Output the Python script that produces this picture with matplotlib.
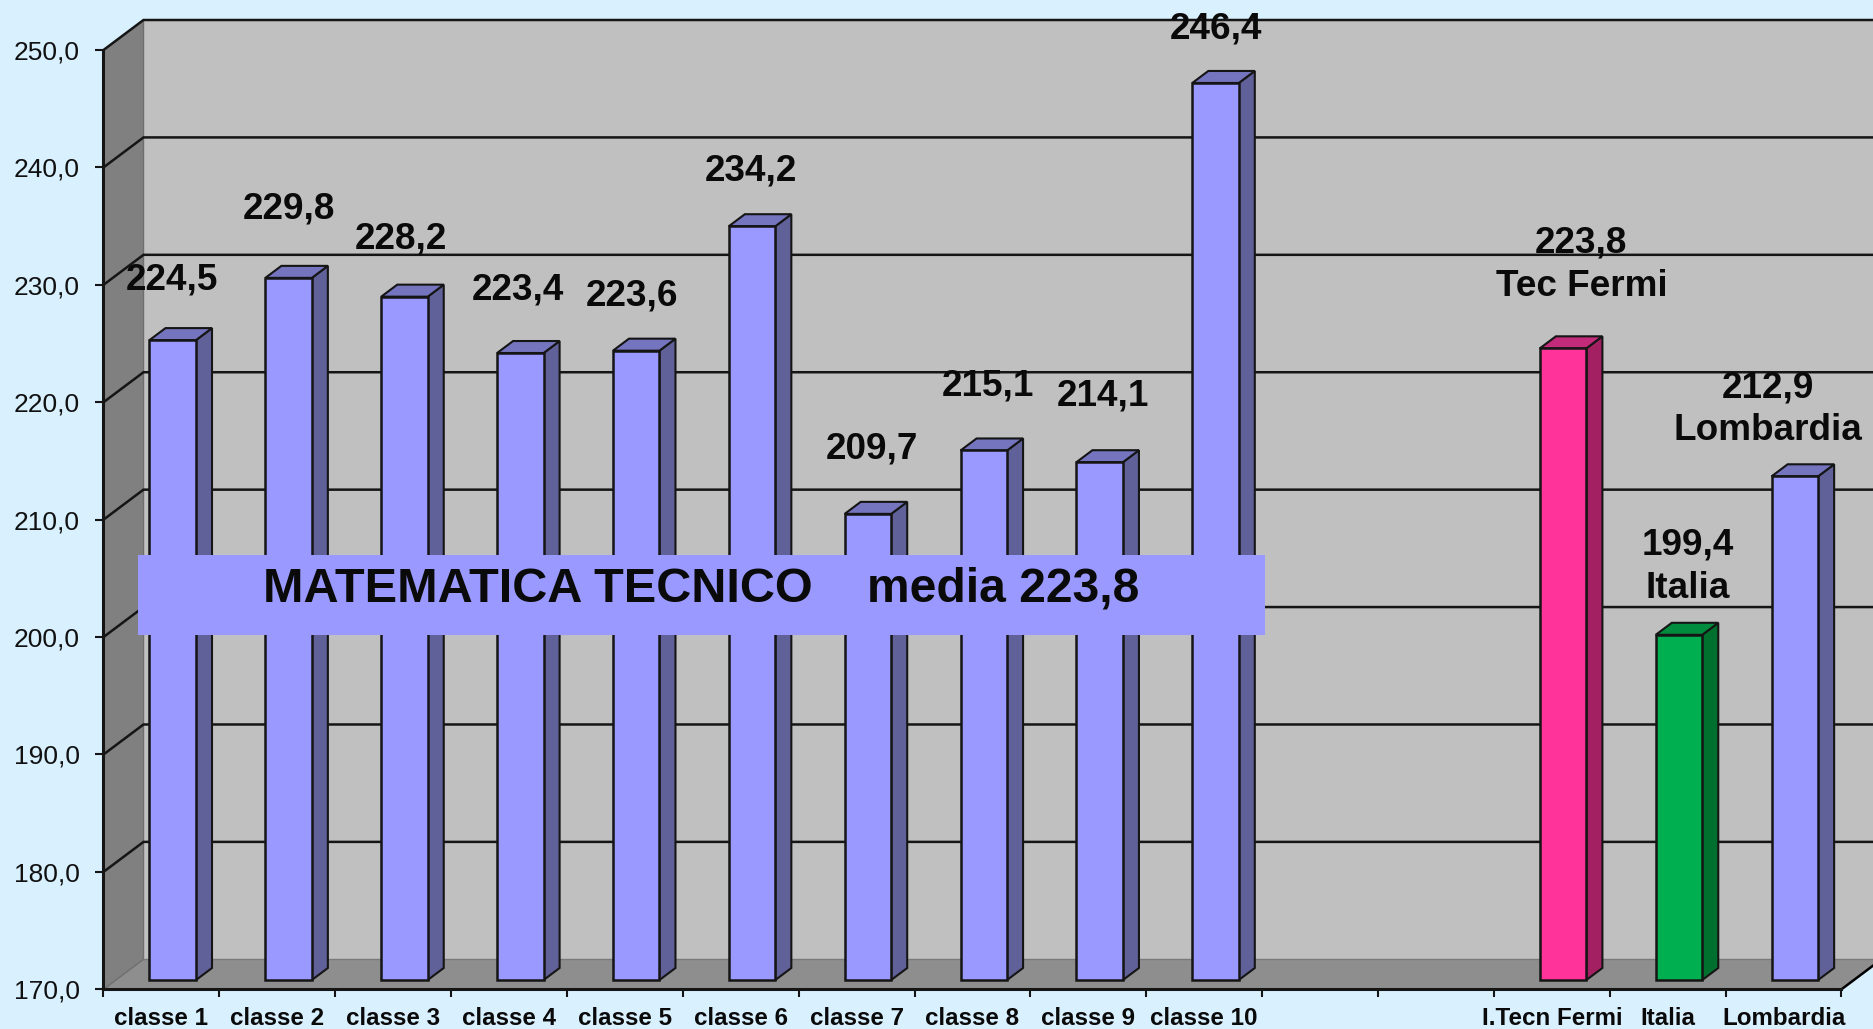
import matplotlib
matplotlib.use("Agg")
import matplotlib.pyplot as plt
from matplotlib.patches import Polygon, Rectangle

plt.rcParams['font.family'] = ['Liberation Sans', 'DejaVu Sans']

W, H = 1874, 1029

# dati
categorie = ["classe 1", "classe 2", "classe 3", "classe 4", "classe 5",
             "classe 6", "classe 7", "classe 8", "classe 9", "classe 10",
             "", "", "I.Tecn Fermi", "Italia", "Lombardia"]
valori = [224.5, 229.8, 228.2, 223.4, 223.6, 234.2, 209.7, 215.1, 214.1, 246.4,
          None, None, 223.8, 199.4, 212.9]
note = {12: "Tec Fermi", 13: "Italia", 14: "Lombardia"}
y_ticks = [170, 180, 190, 200, 210, 220, 230, 240, 250]

# colori (fronte, lato, sopra)
viola = ("#9999FF", "#616199", "#7575BF")
rosa = ("#FF3399", "#A32063", "#C22A7A")
verde = ("#00B050", "#00702F", "#008C3E")
colori = [viola] * 10 + [None, None, rosa, verde, viola]

# posizione centro etichette (pixel)
pos_label = [(172, 280), (289, 209), (401, 239), (518, 290), (632, 296),
             (751, 171), (872, 449), (988, 386), (1103, 396), (1216, 29),
             None, None, (1581, 243), (1688, 545), (1768, 388)]
pos_nota = {12: (1582, 287), 13: (1688, 589), 14: (1768, 431)}

fig = plt.figure(figsize=(W / 100, H / 100), dpi=100, facecolor="#D9F0FF")

# assi: piano frontale del grafico 3D
x0, x1, y0, y1 = 103.5, 1841.5, 989.3, 50.0
ax = fig.add_axes([x0 / W, 1 - y0 / H, (x1 - x0) / W, (y0 - y1) / H])
ax.set_xlim(0, 15)
ax.set_ylim(170, 250)
ax.patch.set_visible(False)

px_x = 15 / (x1 - x0)
px_y = 80 / (y0 - y1)
DX = 40 * px_x
DY = 30 * px_y


def poly(pts, fc, ec="none", lw=0, z=1):
    ax.add_patch(Polygon(pts, closed=True, facecolor=fc, edgecolor=ec, linewidth=lw,
                         zorder=z, clip_on=False, joinstyle="miter"))


# pareti e pavimento
poly([(DX, 170 + DY), (15 + DX, 170 + DY), (15 + DX, 250 + DY), (DX, 250 + DY)], "#C0C0C0")
poly([(0, 170), (DX, 170 + DY), (DX, 250 + DY), (0, 250)], "#808080")
poly([(0, 170), (15, 170), (15 + DX, 170 + DY), (DX, 170 + DY)], "#8E8E8E")
ax.plot([DX, DX], [170 + DY, 250 + DY], color="#6E6E6E", lw=1, zorder=1.5, clip_on=False)
ax.plot([0, DX], [170, 170 + DY], color="#6E6E6E", lw=1, zorder=1.5, clip_on=False)
ax.plot([DX, 15 + DX], [170 + DY, 170 + DY], color="#7A7A7A", lw=1, zorder=1.5, clip_on=False)
ax.plot([15, 15 + DX], [170, 170 + DY], color="black", lw=1.8, zorder=1.5, clip_on=False)

# griglia
for t in y_ticks[1:]:
    ax.plot([0, DX, 15 + DX], [t, t + DY, t + DY], color="#151515", lw=1.8, zorder=2,
            clip_on=False, solid_joinstyle="miter")

# barre
b_w = 46.5 * px_x
b_off = 46 * px_x
bx = 16 * px_x
by = 12 * px_y
rialzo = 9.3 * px_y
for i, v in enumerate(valori):
    if v is None:
        continue
    fr, la, so = colori[i]
    a = i + b_off
    b = a + b_w
    base = 170 + rialzo
    top = v + rialzo
    poly([(b, base), (b + bx, base + by), (b + bx, top + by), (b, top)], la, "#151515", 1.5, 3)
    poly([(a, top), (b, top), (b + bx, top + by), (a + bx, top + by)], so, "#151515", 1.5, 3)
    poly([(a, base), (b, base), (b, top), (a, top)], fr, "#151515", 1.8, 3.1)

# banda titolo
fig.add_artist(Rectangle((138 / W, 1 - 634.5 / H), (1265 - 138) / W, 80 / H,
                         facecolor="#9999FF", edgecolor="none", zorder=5))
fig.text(263 / W, 1 - 589 / H, "MATEMATICA TECNICO", fontsize=35, fontweight="bold",
         ha="left", va="center", zorder=6, color="#0A0A0A")
fig.text(867 / W, 1 - 589 / H, "media 223,8", fontsize=34.6, fontweight="bold",
         ha="left", va="center", zorder=6, color="#0A0A0A")

# etichette valori
for i, v in enumerate(valori):
    if v is None:
        continue
    px, py = pos_label[i]
    fig.text(px / W, 1 - py / H, f"{v:.1f}".replace(".", ","), fontsize=26.6, fontweight="bold",
             ha="center", va="center", zorder=6, color="#0A0A0A")
for i, nome in note.items():
    px, py = pos_nota[i]
    fig.text(px / W, 1 - py / H, nome, fontsize=26.6, fontweight="bold",
             ha="center", va="center", zorder=6, color="#0A0A0A")

# assi e tacche
for s in ["top", "right"]:
    ax.spines[s].set_visible(False)
for s in ["left", "bottom"]:
    ax.spines[s].set_linewidth(2.2)
    ax.spines[s].set_color("#151515")
    ax.spines[s].set_zorder(4)
ax.set_yticks(y_ticks)
ax.set_yticklabels([f"{t:.1f}".replace(".", ",") for t in y_ticks], fontsize=19, color="#111111")
ax.tick_params(axis="y", length=6, width=1.5, pad=11, color="#151515")
ax.set_xticks(range(16))
ax.set_xticklabels([])
ax.set_xticks([i + 0.5 for i in range(15)], minor=True)
ax.set_xticklabels(categorie, minor=True, fontsize=17.4, fontweight="bold", color="#0A0A0A")
ax.tick_params(axis="x", which="major", length=6, width=1.5, color="#151515")
ax.tick_params(axis="x", which="minor", length=0, pad=12.5)

fig.savefig("out.png", dpi=100, facecolor=fig.get_facecolor())
